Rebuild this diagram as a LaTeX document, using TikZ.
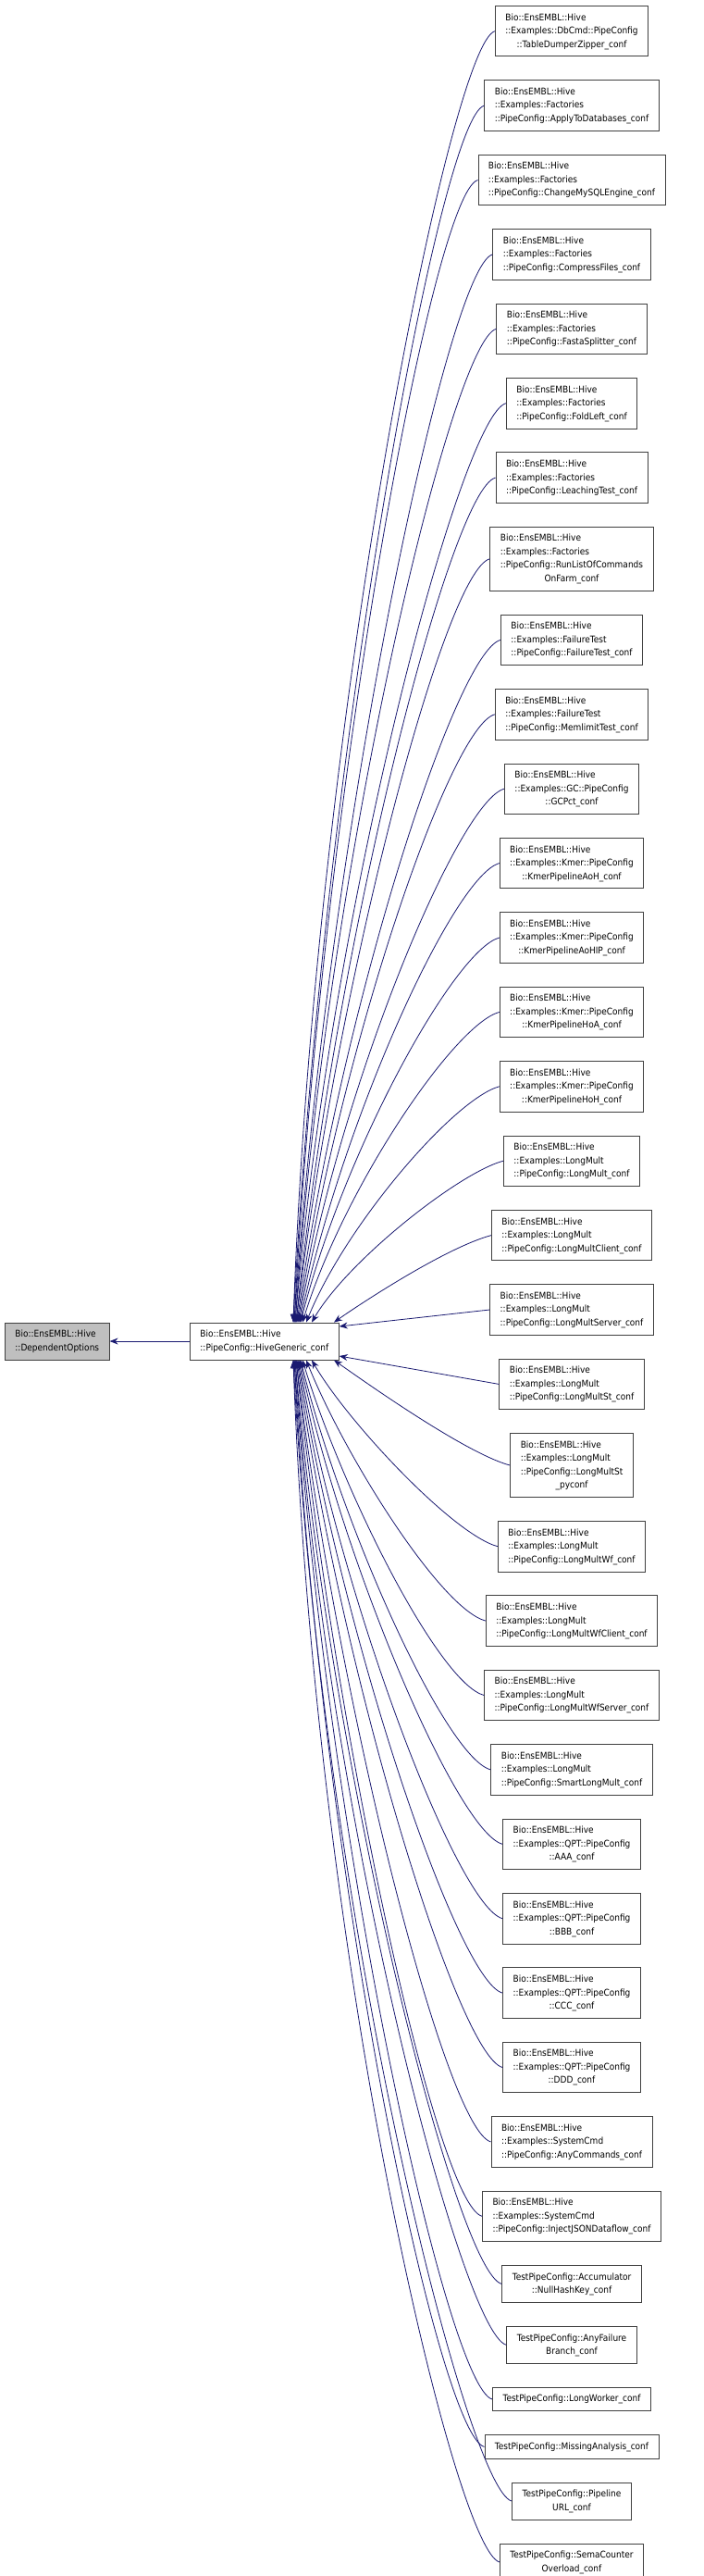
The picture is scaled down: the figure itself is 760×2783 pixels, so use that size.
\documentclass[tikz,border=0pt]{standalone}
\usepackage{fontspec}
\setmainfont{DejaVu Sans}[FakeStretch=0.9]
\usetikzlibrary{positioning,arrows.meta,calc}
\definecolor{edgec}{HTML}{191970}
\newcommand{\tl}[1]{\begin{tabular}{@{}l@{}}#1\end{tabular}}
\newcommand{\lc}[1]{\multicolumn{1}{@{}c@{}}{#1}}
\begin{document}
\begin{tikzpicture}[x=1pt,y=1pt,
  box/.style={draw=black!75,line width=0.9pt,fill=white,inner xsep=11pt,inner ysep=5.5pt,font=\fontsize{10}{14.5}\selectfont},
  edge/.style={draw=edgec,line width=0.8pt,{Stealth[length=9pt,width=7pt]}-}]
\useasboundingbox (0,0) rectangle (760,-2783);
\node[box,fill=black!25,anchor=west] (dep) at (5,-1449) {\tl{Bio::EnsEMBL::Hive\\::DependentOptions}};
\node[box,anchor=west] (hg) at (205,-1449) {\tl{Bio::EnsEMBL::Hive\\::PipeConfig::HiveGeneric\_conf}};
\draw[edge] (dep.east) -- (hg.west);
\node[box,anchor=north] (c1) at (618,-6) {\tl{Bio::EnsEMBL::Hive\\::Examples::DbCmd::PipeConfig\\\lc{::TableDumperZipper\_conf}}};
\node[box,below=25pt of c1] (c2) {\tl{Bio::EnsEMBL::Hive\\::Examples::Factories\\::PipeConfig::ApplyToDatabases\_conf}};
\node[box,below=25pt of c2] (c3) {\tl{Bio::EnsEMBL::Hive\\::Examples::Factories\\::PipeConfig::ChangeMySQLEngine\_conf}};
\node[box,below=25pt of c3] (c4) {\tl{Bio::EnsEMBL::Hive\\::Examples::Factories\\::PipeConfig::CompressFiles\_conf}};
\node[box,below=25pt of c4] (c5) {\tl{Bio::EnsEMBL::Hive\\::Examples::Factories\\::PipeConfig::FastaSplitter\_conf}};
\node[box,below=25pt of c5] (c6) {\tl{Bio::EnsEMBL::Hive\\::Examples::Factories\\::PipeConfig::FoldLeft\_conf}};
\node[box,below=25pt of c6] (c7) {\tl{Bio::EnsEMBL::Hive\\::Examples::Factories\\::PipeConfig::LeachingTest\_conf}};
\node[box,below=25pt of c7] (c8) {\tl{Bio::EnsEMBL::Hive\\::Examples::Factories\\::PipeConfig::RunListOfCommands\\\lc{OnFarm\_conf}}};
\node[box,below=25pt of c8] (c9) {\tl{Bio::EnsEMBL::Hive\\::Examples::FailureTest\\::PipeConfig::FailureTest\_conf}};
\node[box,below=25pt of c9] (c10) {\tl{Bio::EnsEMBL::Hive\\::Examples::FailureTest\\::PipeConfig::MemlimitTest\_conf}};
\node[box,below=25pt of c10] (c11) {\tl{Bio::EnsEMBL::Hive\\::Examples::GC::PipeConfig\\\lc{::GCPct\_conf}}};
\node[box,below=25pt of c11] (c12) {\tl{Bio::EnsEMBL::Hive\\::Examples::Kmer::PipeConfig\\\lc{::KmerPipelineAoH\_conf}}};
\node[box,below=25pt of c12] (c13) {\tl{Bio::EnsEMBL::Hive\\::Examples::Kmer::PipeConfig\\\lc{::KmerPipelineAoHIP\_conf}}};
\node[box,below=25pt of c13] (c14) {\tl{Bio::EnsEMBL::Hive\\::Examples::Kmer::PipeConfig\\\lc{::KmerPipelineHoA\_conf}}};
\node[box,below=25pt of c14] (c15) {\tl{Bio::EnsEMBL::Hive\\::Examples::Kmer::PipeConfig\\\lc{::KmerPipelineHoH\_conf}}};
\node[box,below=25pt of c15] (c16) {\tl{Bio::EnsEMBL::Hive\\::Examples::LongMult\\::PipeConfig::LongMult\_conf}};
\node[box,below=25pt of c16] (c17) {\tl{Bio::EnsEMBL::Hive\\::Examples::LongMult\\::PipeConfig::LongMultClient\_conf}};
\node[box,below=25pt of c17] (c18) {\tl{Bio::EnsEMBL::Hive\\::Examples::LongMult\\::PipeConfig::LongMultServer\_conf}};
\node[box,below=25pt of c18] (c19) {\tl{Bio::EnsEMBL::Hive\\::Examples::LongMult\\::PipeConfig::LongMultSt\_conf}};
\node[box,below=25pt of c19] (c20) {\tl{Bio::EnsEMBL::Hive\\::Examples::LongMult\\::PipeConfig::LongMultSt\\\lc{\_pyconf}}};
\node[box,below=25pt of c20] (c21) {\tl{Bio::EnsEMBL::Hive\\::Examples::LongMult\\::PipeConfig::LongMultWf\_conf}};
\node[box,below=25pt of c21] (c22) {\tl{Bio::EnsEMBL::Hive\\::Examples::LongMult\\::PipeConfig::LongMultWfClient\_conf}};
\node[box,below=25pt of c22] (c23) {\tl{Bio::EnsEMBL::Hive\\::Examples::LongMult\\::PipeConfig::LongMultWfServer\_conf}};
\node[box,below=25pt of c23] (c24) {\tl{Bio::EnsEMBL::Hive\\::Examples::LongMult\\::PipeConfig::SmartLongMult\_conf}};
\node[box,below=25pt of c24] (c25) {\tl{Bio::EnsEMBL::Hive\\::Examples::QPT::PipeConfig\\\lc{::AAA\_conf}}};
\node[box,below=25pt of c25] (c26) {\tl{Bio::EnsEMBL::Hive\\::Examples::QPT::PipeConfig\\\lc{::BBB\_conf}}};
\node[box,below=25pt of c26] (c27) {\tl{Bio::EnsEMBL::Hive\\::Examples::QPT::PipeConfig\\\lc{::CCC\_conf}}};
\node[box,below=25pt of c27] (c28) {\tl{Bio::EnsEMBL::Hive\\::Examples::QPT::PipeConfig\\\lc{::DDD\_conf}}};
\node[box,below=25pt of c28] (c29) {\tl{Bio::EnsEMBL::Hive\\::Examples::SystemCmd\\::PipeConfig::AnyCommands\_conf}};
\node[box,below=25pt of c29] (c30) {\tl{Bio::EnsEMBL::Hive\\::Examples::SystemCmd\\::PipeConfig::InjectJSONDataflow\_conf}};
\node[box,below=25pt of c30] (c31) {\tl{TestPipeConfig::Accumulator\\\lc{::NullHashKey\_conf}}};
\node[box,below=25pt of c31] (c32) {\tl{TestPipeConfig::AnyFailure\\\lc{Branch\_conf}}};
\node[box,below=25pt of c32] (c33) {\tl{TestPipeConfig::LongWorker\_conf}};
\node[box,below=25pt of c33] (c34) {\tl{TestPipeConfig::MissingAnalysis\_conf}};
\node[box,below=25pt of c34] (c35) {\tl{TestPipeConfig::Pipeline\\\lc{URL\_conf}}};
\node[box,below=25pt of c35] (c36) {\tl{TestPipeConfig::SemaCounter\\\lc{Overload\_conf}}};
% upper children -> top of parent
\foreach \i/\dx/\a in {1/0/88,2/0/87,3/1/87,4/1/86,5/2/86,6/2/85,7/3/84,8/3/83,9/4/82,10/5/81,11/6/80,12/7/78,13/8/76,14/10/73,15/14/68,16/20/60,17/44/35}{
  \pgfmathsetmacro{\L}{(18-\i)*38}
  \draw[edge] ($(hg.north west)+(112+\dx,0)$) coordinate (t\i) .. controls +(\a:\L) and +(195:50) .. (c\i.west);
}
\foreach \i/\dx/\a in {20/44/-35,21/20/-60,22/14/-68,23/10/-73,24/8/-76,25/7/-78,26/6/-80,27/5/-81,28/4/-82,29/3/-83,30/3/-84,31/2/-85,32/2/-86,33/1/-86,34/1/-87,35/0/-87,36/0/-88}{
  \pgfmathsetmacro{\L}{(\i-19)*38}
  \draw[edge] ($(hg.south west)+(112+\dx,0)$) coordinate (b\i) .. controls +(\a:\L) and +(165:50) .. (c\i.west);
}
\draw[edge] ($(hg.east)+(0,16)$) coordinate (e18) -- (c18.west);
\draw[edge] ($(hg.east)+(0,-16)$) coordinate (e19) -- (c19.west);
\end{tikzpicture}
\end{document}
